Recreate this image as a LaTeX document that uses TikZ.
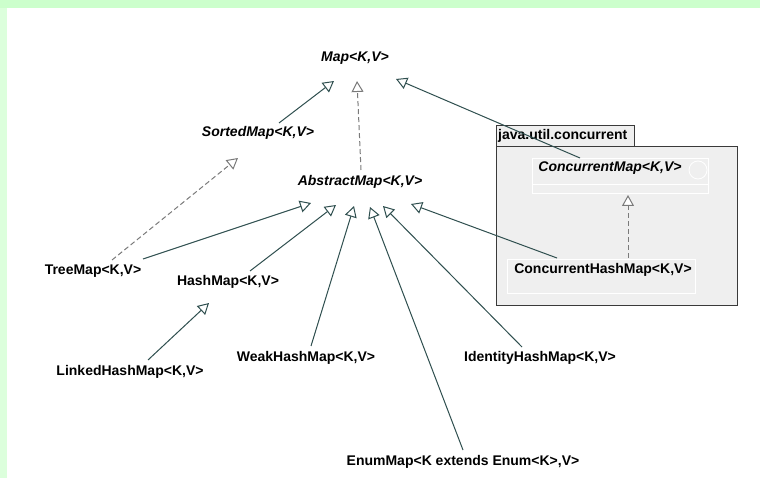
\documentclass[tikz,border=0pt]{standalone}
\usepackage{fontspec}
\setmainfont{Liberation Sans}
\usetikzlibrary{arrows.meta,calc}
\definecolor{topgreen}{HTML}{CCFFCC}
\definecolor{sidegreen}{HTML}{DCFFDC}
\definecolor{edgeline}{HTML}{2F4F4F}
\definecolor{dashline}{HTML}{7A7A7A}
\definecolor{pkgfill}{HTML}{EFEFEF}
\definecolor{pkgline}{HTML}{3A3A3A}
\tikzset{
  cls/.style={inner sep=0pt, anchor=center, font=\fontsize{14}{16}\selectfont\bfseries},
  iface/.style={cls, font=\fontsize{14}{16}\selectfont\bfseries\itshape},
  extends/.style={draw=edgeline, line width=1pt,
    -{Triangle[open, length=11pt, width=12pt, line width=1pt, fill=white]}},
  realizes/.style={draw=dashline, line width=1pt, dash pattern=on 5pt off 3pt,
    -{Triangle[open, length=11pt, width=12pt, line width=1pt, fill=white]}},
  pkgbox/.style={fill=pkgfill, draw=pkgline, line width=0.8pt},
  innerbox/.style={draw=white, line width=0.8pt},
}
\begin{document}
\begin{tikzpicture}[x=1pt,y=-1pt]
% page and frame
\fill[white] (0,0) rectangle (760,478);
\fill[sidegreen] (0,0) rectangle (7,478);
\fill[topgreen] (0,0) rectangle (760,8);
\useasboundingbox (0,0) rectangle (760,478);

% package java.util.concurrent
\draw[pkgbox] (496,146) rectangle (737,305);
\draw[pkgbox] (496,125) rectangle (634,146);
\node[cls, anchor=west] (pkg) at (498,136) {java.util.concurrent};
\draw[innerbox] (532,158) rectangle (708,193);
\draw[innerbox] (532,184) -- (708,184);
\draw[innerbox] (698,170) circle[radius=9];
\draw[innerbox] (507,259) rectangle (695,293);

% classes and interfaces
\node[iface] (map) at (355,58) {Map<K,V>};
\node[iface] (sorted) at (258,133) {SortedMap<K,V>};
\node[iface] (abstract) at (360,182) {AbstractMap<K,V>};
\node[iface] (cmap) at (610,168) {ConcurrentMap<K,V>};
\node[cls] (tree) at (93,271) {TreeMap<K,V>};
\node[cls] (hash) at (228,282) {HashMap<K,V>};
\node[cls] (linked) at (130,372) {LinkedHashMap<K,V>};
\node[cls] (weak) at (306,358) {WeakHashMap<K,V>};
\node[cls] (ident) at (540,358) {IdentityHashMap<K,V>};
\node[cls] (enum) at (463,462) {EnumMap<K extends Enum<K>,V>};
\node[cls] (chm) at (603,270) {ConcurrentHashMap<K,V>};

% inheritance
\draw[extends] ($(sorted)+(21,-10)$) -- ($(map)+(-21,23)$);
\draw[realizes] ($(abstract)+(1,-12)$) -- ($(map)+(2,23)$);
\draw[extends] ($(cmap)+(-30,-10)$) -- ($(map)+(41,21)$);
\draw[realizes] ($(tree)+(19,-11)$) -- ($(sorted)+(-20,25)$);
\draw[extends] ($(tree)+(50,-12)$) -- ($(abstract)+(-49,21)$);
\draw[extends] ($(hash)+(22,-11)$) -- ($(abstract)+(-24,23)$);
\draw[extends] ($(linked)+(18,-12)$) -- ($(hash)+(-19,21)$);
\draw[extends] ($(weak)+(5,-12)$) -- ($(abstract)+(-6,24)$);
\draw[extends] ($(enum)+(0,-12)$) -- ($(abstract)+(10,25)$);
\draw[extends] ($(ident)+(-18,-11)$) -- ($(abstract)+(23,24)$);
\draw[extends] ($(chm)+(-46,-12)$) -- ($(abstract)+(51,22)$);
\draw[realizes] ($(chm)+(25,-12)$) -- ($(cmap)+(18,27)$);
\end{tikzpicture}
\end{document}
